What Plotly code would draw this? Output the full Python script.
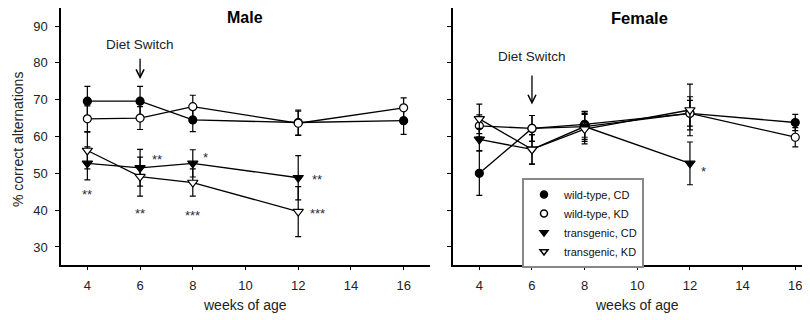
import plotly.graph_objects as go

# ---------------- data ----------------
weeks_wt = [4, 6, 8, 12, 16]
weeks_tg = [4, 6, 8, 12]
x_ticks = [4, 6, 8, 10, 12, 14, 16]
y_ticks = [30, 40, 50, 60, 70, 80, 90]

male_wt_cd = [69.6, 69.6, 64.5, 63.8, 64.3]
male_wt_cd_err = [4.0, 4.0, 3.2, 3.4, 3.7]
male_wt_kd = [64.8, 65.0, 68.1, 63.6, 67.8]
male_wt_kd_err = [3.5, 3.1, 3.1, 3.3, 2.7]
male_tg_cd = [52.7, 51.5, 52.7, 48.8]
male_tg_cd_err = [4.5, 5.0, 3.7, 6.0]
male_tg_kd = [56.2, 49.1, 47.5, 39.6]
male_tg_kd_err = [5.0, 5.3, 3.7, 6.8]

female_wt_cd = [50.0, 62.2, 63.3, 66.3, 63.8]
female_wt_cd_err = [6.0, 3.5, 3.5, 3.5, 2.2]
female_wt_kd = [62.9, 62.2, 62.7, 66.3, 59.8]
female_wt_kd_err = [3.0, 3.5, 3.5, 4.5, 2.6]
female_tg_cd = [59.2, 56.5, 62.7, 52.7]
female_tg_cd_err = [3.0, 4.0, 4.0, 5.8]
female_tg_kd = [64.8, 56.5, 62.0, 67.2]
female_tg_kd_err = [4.0, 4.0, 4.0, 7.0]

# significance marks: (x, y, text)
male_stars = [(4, 45.0, "**"), (6, 39.9, "**"), (8, 39.3, "***"), (6.63, 54.5, "**"),
              (8.5, 55.2, "*"), (12.73, 49.1, "**"), (12.75, 40.0, "***")]
female_stars = [(12.52, 51.4, "*")]

series_names = ["wild-type, CD", "wild-type, KD", "transgenic, CD", "transgenic, KD"]
series_symbols = ["circle", "circle-open", "triangle-down", "triangle-down-open"]

FONT = "Liberation Sans, Arial, sans-serif"
W, H = 802, 312   # page body has an 8px margin in the viewer
OFF = 8


def px(xp):
    return (xp - OFF) / W


def py(yp):
    return 1 - (yp - OFF) / H


fig = go.Figure()


def add_series(x, y, err, sym, xa, ya):
    filled = "open" not in sym
    base = sym.replace("-open", "")
    fig.add_trace(go.Scatter(
        x=x, y=y, mode="lines+markers", xaxis=xa, yaxis=ya, showlegend=False,
        line=dict(color="black", width=1.3),
        marker=dict(symbol=base, size=8 if "circle" in base else 9,
                    color="black" if filled else "white",
                    line=dict(color="black", width=1.2)),
        error_y=dict(type="data", array=err, color="black", thickness=1.2, width=3),
    ))


male = [(weeks_wt, male_wt_cd, male_wt_cd_err), (weeks_wt, male_wt_kd, male_wt_kd_err),
        (weeks_tg, male_tg_cd, male_tg_cd_err), (weeks_tg, male_tg_kd, male_tg_kd_err)]
female = [(weeks_wt, female_wt_cd, female_wt_cd_err), (weeks_wt, female_wt_kd, female_wt_kd_err),
          (weeks_tg, female_tg_cd, female_tg_cd_err), (weeks_tg, female_tg_kd, female_tg_kd_err)]

for (x, y, e), sym in zip(male, series_symbols):
    add_series(x, y, e, sym, "x", "y")
for (x, y, e), sym in zip(female, series_symbols):
    add_series(x, y, e, sym, "x2", "y2")

# legend-only entries (markers only)
for name, sym in zip(series_names, series_symbols):
    filled = "open" not in sym
    base = sym.replace("-open", "")
    fig.add_trace(go.Scatter(
        x=[None], y=[None], mode="markers", name=name, xaxis="x2", yaxis="y2",
        marker=dict(symbol=base, size=7, color="black" if filled else "white",
                    line=dict(color="black", width=1.5)),
    ))

ax_common = dict(showline=True, linecolor="black", linewidth=1.5, showgrid=False,
                 zeroline=False, ticks="outside", tickcolor="black", mirror=False,
                 automargin=False)

y_dom = [py(265), 1.0]
fig.update_layout(
    width=W, height=H, margin=dict(l=0, r=0, t=0, b=0),
    paper_bgcolor="white", plot_bgcolor="white",
    font=dict(family=FONT, color="#222"),
    xaxis=dict(domain=[px(61), px(430)], range=[3, 17.0], tickvals=x_ticks,
               ticklen=3, ticklabelstandoff=5, tickfont=dict(size=13), anchor="y", **ax_common),
    yaxis=dict(domain=y_dom, range=[25.1, 94.9], tickvals=y_ticks, ticklen=4,
               ticklabelstandoff=5, tickfont=dict(size=13), anchor="x", **ax_common),
    xaxis2=dict(domain=[px(453), 1.0], range=[3, 16.56], tickvals=x_ticks,
                ticklen=3, ticklabelstandoff=5, tickfont=dict(size=13), anchor="y2", **ax_common),
    yaxis2=dict(domain=y_dom, range=[25.1, 94.9], tickvals=y_ticks, ticklen=4,
                showticklabels=False, anchor="x2", **ax_common),
    legend=dict(x=px(522), y=py(178), xanchor="left", yanchor="top",
                bordercolor="#888", borderwidth=2, bgcolor="white",
                font=dict(size=11, family=FONT, color="#111"),
                itemwidth=30, tracegroupgap=0),
)

ann = []
C = dict(xref="paper", yref="paper", xanchor="center", yanchor="middle", showarrow=False)
# panel titles
ann.append(dict(text="<b>Male</b>", x=px(245), y=py(17), font=dict(size=16, color="black"), **C))
ann.append(dict(text="<b>Female</b>", x=px(639), y=py(18), font=dict(size=16.5, color="black"), **C))
# axis titles
for cx in (245, 637):
    ann.append(dict(text="weeks of age", x=px(cx), y=py(305), font=dict(size=14, color="#222"), **C))
ann.append(dict(text="% correct alternations", x=px(18), y=py(140), textangle=-90,
                font=dict(size=14, color="#222"), **C))
# diet switch labels and arrows
for xa, ya, ty, tail, head in (("x", "y", 85.1, 81.5, 75.6), ("x2", "y2", 81.7, 77.0, 68.7)):
    ann.append(dict(text="Diet Switch", x=6, y=ty, xref=xa, yref=ya, showarrow=False,
                    font=dict(size=13.5, color="#222")))
    ann.append(dict(text="", x=6, y=head, ax=6, ay=tail, xref=xa, yref=ya, axref=xa, ayref=ya,
                    showarrow=True, arrowhead=5, arrowsize=1.2, arrowwidth=1.3, arrowcolor="black"))
# significance stars
for xs, ys, t in male_stars:
    ann.append(dict(text=t, x=xs, y=ys, xref="x", yref="y", showarrow=False, yshift=-3,
                    font=dict(size=13, color="#2a2a40")))
for xs, ys, t in female_stars:
    ann.append(dict(text=t, x=xs, y=ys, xref="x2", yref="y2", showarrow=False, yshift=-3,
                    font=dict(size=13, color="#2a2a40")))
fig.update_layout(annotations=ann)

fig.write_html("out.html")
